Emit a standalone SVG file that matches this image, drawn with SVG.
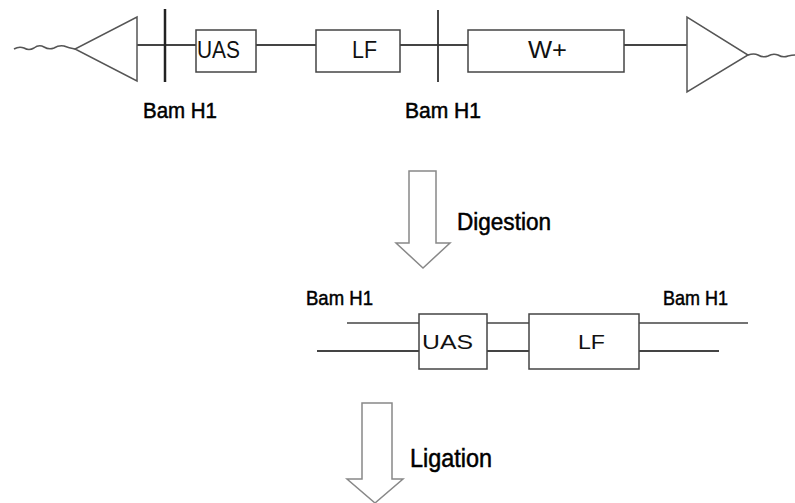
<svg xmlns="http://www.w3.org/2000/svg" width="795" height="503" viewBox="0 0 795 503">
<style>
.ln{stroke:#444;stroke-width:2;fill:none}
.bx{stroke:#444;stroke-width:1.5;fill:#fff}
.tri{stroke:#555;stroke-width:1.5;fill:#fff}
.arr{stroke:#888;stroke-width:1.5;fill:#fff}
.wv{stroke:#555;stroke-width:1.5;fill:none}
text{font-family:"Liberation Sans",Arial,sans-serif;fill:#111}
.lbl{fill:#000;stroke:#000;stroke-width:0.5}
</style>
<rect width="795" height="503" fill="#fff"/>
<g id="connectors">
<line class="ln" x1="137" y1="45" x2="196" y2="45"/>
<line class="ln" x1="256" y1="45" x2="316" y2="45"/>
<line class="ln" x1="400" y1="45" x2="468" y2="45"/>
<line class="ln" x1="624" y1="45" x2="687" y2="45"/>
<path class="wv" d="M14 49 q5 -3 10 -1 q5 3 10 0 q5 -4 10 -1 q5 3 10 1 q5 -3 10 -2 q5 2 11 3"/>
<path class="wv" d="M748 55 q6 -2 10 0 q5 3 10 1 q5 -3 10 -1 q5 3 10 1 q4 -1 7 -1"/>
<line class="ln" x1="347" y1="323" x2="419" y2="323" style="stroke-width:1.5"/>
<line class="ln" x1="317" y1="351" x2="419" y2="351"/>
<line class="ln" x1="487" y1="323" x2="529" y2="323" style="stroke-width:1.5"/>
<line class="ln" x1="487" y1="351" x2="529" y2="351"/>
<line class="ln" x1="639" y1="323" x2="748" y2="323" style="stroke-width:1.5"/>
<line class="ln" x1="639" y1="351" x2="719" y2="351"/>
</g>
<g id="left-end">
<polygon class="tri" points="137,17 137,81 75,49"/>
</g>
<g id="right-end">
<polygon class="tri" points="687,17 687,92 748,55"/>
</g>
<g id="cut1">
<line x1="165" y1="9" x2="165" y2="82" stroke="#222" stroke-width="2.5"/>
<text class="lbl" x="143" y="118" font-size="22" textLength="74" lengthAdjust="spacingAndGlyphs">Bam H1</text>
</g>
<g id="cut2">
<line x1="438" y1="10" x2="438" y2="82" stroke="#333" stroke-width="1.8"/>
<text class="lbl" x="405" y="118" font-size="22" textLength="76" lengthAdjust="spacingAndGlyphs">Bam H1</text>
</g>
<g id="uas-top">
<rect class="bx" x="196" y="30" width="60" height="42"/>
<text x="197" y="58" font-size="24" textLength="43" lengthAdjust="spacingAndGlyphs">UAS</text>
</g>
<g id="lf-top">
<rect class="bx" x="316" y="30" width="84" height="42"/>
<text x="352" y="58" font-size="24" textLength="25" lengthAdjust="spacingAndGlyphs">LF</text>
</g>
<g id="w-top">
<rect class="bx" x="468" y="30" width="156" height="42"/>
<text x="528" y="58" font-size="24" textLength="39" lengthAdjust="spacingAndGlyphs">W+</text>
</g>
<g id="digestion">
<polygon class="arr" points="409,171 436,171 436,243 450,243 423,268 396,243 409,243"/>
<text class="lbl" x="457" y="230" font-size="23" textLength="94" lengthAdjust="spacingAndGlyphs">Digestion</text>
</g>
<g id="bam-left">
<text class="lbl" x="306" y="305" font-size="21" textLength="67" lengthAdjust="spacingAndGlyphs">Bam H1</text>
</g>
<g id="bam-right">
<text class="lbl" x="663" y="305" font-size="21" textLength="65" lengthAdjust="spacingAndGlyphs">Bam H1</text>
</g>
<g id="uas-bottom">
<rect class="bx" x="419" y="314" width="68" height="55"/>
<text x="422" y="349" font-size="21" textLength="51" lengthAdjust="spacingAndGlyphs">UAS</text>
</g>
<g id="lf-bottom">
<rect class="bx" x="529" y="314" width="110" height="55"/>
<text x="578" y="349" font-size="21" textLength="27" lengthAdjust="spacingAndGlyphs">LF</text>
</g>
<g id="ligation">
<polygon class="arr" points="362,403 392,403 392,479 403,479 375,503 347,479 362,479"/>
<text class="lbl" x="410" y="467" font-size="25" textLength="82" lengthAdjust="spacingAndGlyphs">Ligation</text>
</g>
</svg>
